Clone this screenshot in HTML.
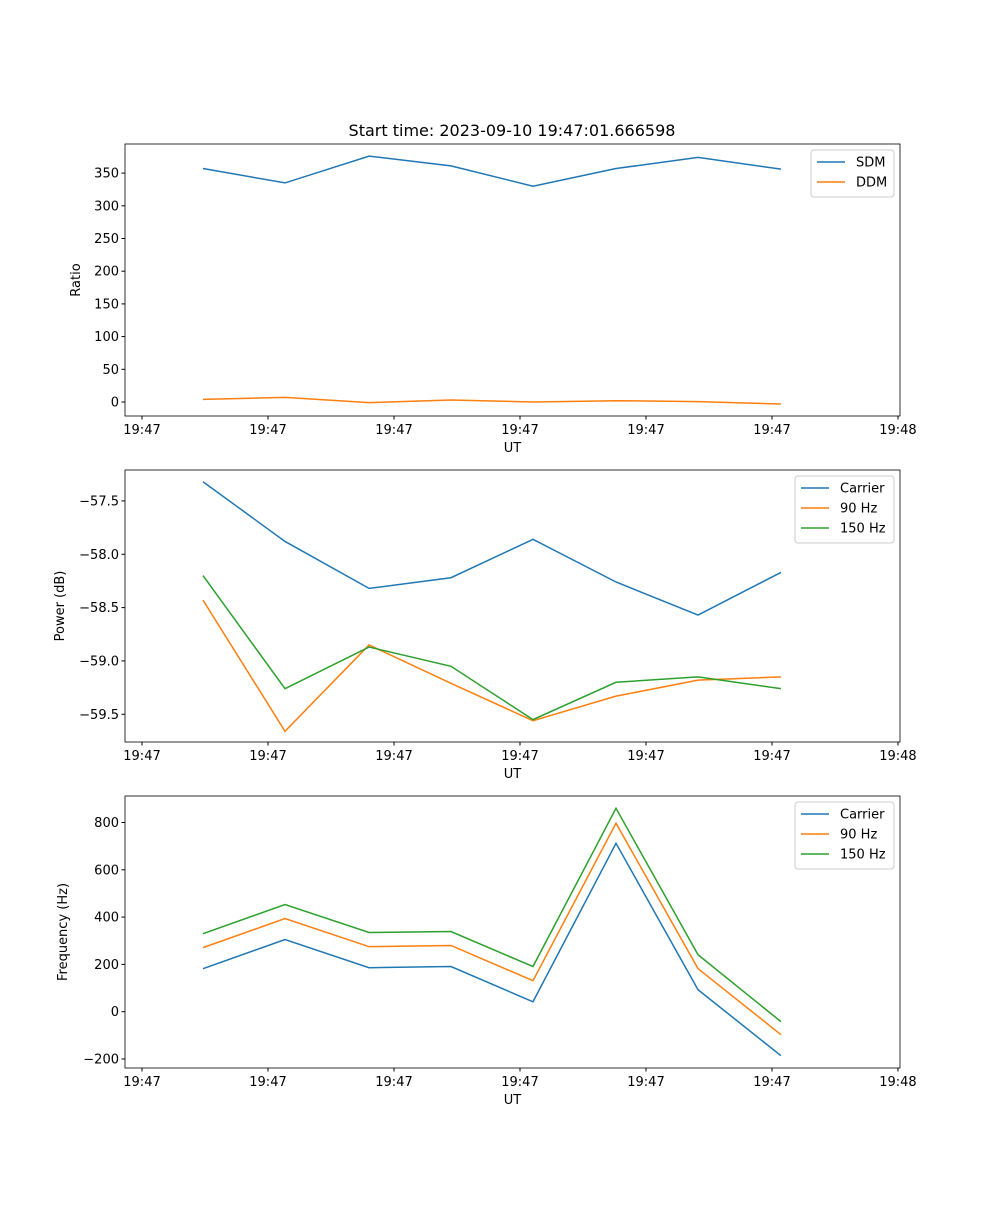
<!DOCTYPE html>
<html><head><meta charset="utf-8"><style>
body{margin:0;background:#fff}
svg text{font-family:"DejaVu Sans","Liberation Sans",sans-serif;fill:#000}
</style></head><body>
<svg id="fig" width="1000" height="1200" xmlns="http://www.w3.org/2000/svg">
<text x="512" y="136" font-size="16" text-anchor="middle">Start time: 2023-09-10 19:47:01.666598</text>
</svg>
<script>
const times=[0.484,1.135,1.802,2.452,3.103,3.762,4.413,5.071];
const xTicks=[0,1,2,3,4,5,6];
const xTickLabels=["19:47","19:47","19:47","19:47","19:47","19:47","19:48"];
const sdm=[357,335,376,361,330,357,374,356];
const ddm=[4,7,-1,3,0,2,0.5,-3];
const powCarrier=[-57.32,-57.88,-58.32,-58.22,-57.86,-58.26,-58.57,-58.17];
const pow90=[-58.43,-59.66,-58.85,-59.21,-59.56,-59.33,-59.18,-59.15];
const pow150=[-58.20,-59.26,-58.87,-59.05,-59.55,-59.20,-59.15,-59.26];
const freqCarrier=[182,305,186,191,42,712,93,-186];
const freq90=[271,394,275,280,131,797,182,-97];
const freq150=[330,453,335,339,191,860,241,-42];
const ratioTicks=[0,50,100,150,200,250,300,350];
const powerTicks=[-59.5,-59.0,-58.5,-58.0,-57.5];
const freqTicks=[-200,0,200,400,600,800];
const C=["#1f77b4","#ff7f0e","#2ca02c"];
const svg=document.getElementById('fig');
const NS="http://www.w3.org/2000/svg";
function mk(tag,attrs,parent){const e=document.createElementNS(NS,tag);for(const k in attrs)e.setAttribute(k,attrs[k]);(parent||svg).appendChild(e);return e;}
function panel(name,top,ylim,yt,fmt,ylabel,series,legend,legW){
  const L=125,R=900,T=top,B=top+272;
  const xs=v=>L+(v-(-0.135))/(6.016+0.135)*(R-L);
  const ys=v=>B-(v-ylim[0])/(ylim[1]-ylim[0])*(B-T);
  const g=mk('g',{});
  
  
  series.forEach((s,i)=>{
    const p=mk('polyline',{points:s.d.map((v,j)=>xs(times[j])+','+ys(v)).join(' '),fill:'none',stroke:C[i],'stroke-width':1.5},g);
    
    
  });
  const fr=mk('rect',{x:L,y:T,width:R-L,height:B-T,fill:'none',stroke:'#000','stroke-width':0.8},g);
  
  
  xTicks.forEach((t,i)=>{const x=xs(t);mk('line',{x1:x,x2:x,y1:B,y2:B+3.5,stroke:'#000'},g);
    const tx=mk('text',{x:x,y:B+18,'font-size':13,'text-anchor':'middle'},g);tx.textContent=xTickLabels[i];
    
    });
  yt.forEach(t=>{const y=ys(t);mk('line',{x1:L,x2:L-3.5,y1:y,y2:y,stroke:'#000'},g);
    const tx=mk('text',{x:L-6,y:y+4.5,'font-size':13,'text-anchor':'end'},g);tx.textContent=fmt(t);
    
    });
  const xl=mk('text',{x:(L+R)/2,y:B+36,'font-size':13,'text-anchor':'middle'},g);xl.textContent='UT';
  
  
  const yl=mk('text',{x:0,y:0,'font-size':13,'text-anchor':'middle',transform:`translate(${legend.yx},${(T+B)/2}) rotate(-90)`},g);yl.textContent=ylabel;
  
  
  const lx=R-6-legW,ly=T+6,lh=7+series.length*20;
  const lg=mk('g',{},g);
  
  
  mk('rect',{x:lx,y:ly,width:legW,height:lh,rx:3,fill:'#fff',stroke:'#ccc','stroke-width':1},lg);
  series.forEach((s,i)=>{const y=ly+12+i*20;
    mk('line',{x1:lx+6,x2:lx+34,y1:y,y2:y,stroke:C[i],'stroke-width':1.5},lg);
    const t=mk('text',{x:lx+45,y:y+4.5,'font-size':13},lg);t.textContent=s.n;
    
    });
}
panel('ratio-panel',144,[-21.4,394.5],ratioTicks,v=>String(v),'Ratio',[{n:'SDM',d:sdm},{n:'DDM',d:ddm}],{yx:80},83);
panel('power-panel',470,[-59.76,-57.21],powerTicks,v=>'\u2212'+Math.abs(v).toFixed(1),'Power (dB)',[{n:'Carrier',d:powCarrier},{n:'90 Hz',d:pow90},{n:'150 Hz',d:pow150}],{yx:64},99);
panel('frequency-panel',796,[-238,912],freqTicks,v=>v<0?'\u2212'+Math.abs(v):String(v),'Frequency (Hz)',[{n:'Carrier',d:freqCarrier},{n:'90 Hz',d:freq90},{n:'150 Hz',d:freq150}],{yx:67},99);
</script>
</body></html>
